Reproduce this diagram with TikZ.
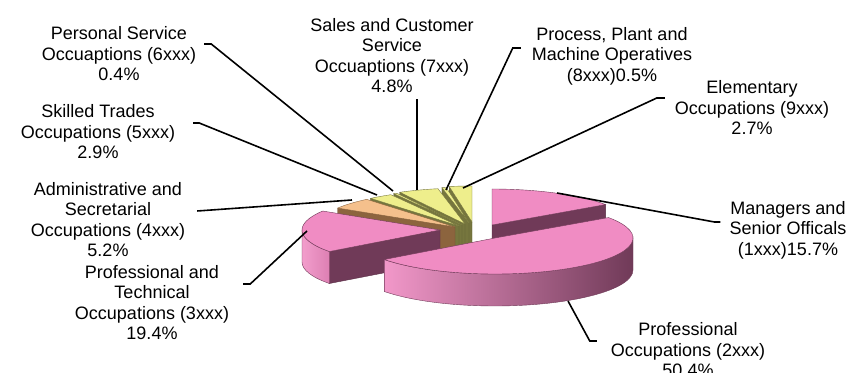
\documentclass[tikz,border=0pt]{standalone}
\usepackage{fontspec}
\setmainfont{Liberation Sans}
\usetikzlibrary{calc}
\definecolor{pinkT}{RGB}{240,140,195}
\definecolor{pinkS}{RGB}{112,58,88}
\definecolor{peachT}{RGB}{245,192,140}
\definecolor{peachS}{RGB}{140,100,62}
\definecolor{yelT}{RGB}{238,238,140}
\definecolor{yelS}{RGB}{118,118,62}
\tikzset{lbl/.style={font=\fontsize{18}{20.5}\selectfont, align=center, inner sep=0pt}}
\tikzset{leader/.style={draw, line width=1.6pt}}
\tikzset{topface/.style={fill=#1T, draw=#1S, line width=0.4pt}}
\tikzset{radface/.style={fill=#1S, draw=#1S!80!black, line width=0.4pt}}
% one slice of the pie: centre, angles, style
\newcommand{\pietop}[4]{\path[#4, shift={(#1)}] (0,0) -- (#2:138 and 36) arc[start angle=#2, end angle=#3, x radius=138, y radius=36] -- cycle;}
\newcommand{\pieface}[3]{\path[#3, shift={(#1)}] (0,0) -- (#2:138 and 36) -- ++(0,-32) -- (0,-32) -- cycle;}
\newcommand{\pieside}[4]{\path[#4, shift={(#1)}] (#2:138 and 36) arc[start angle=#2, end angle=#3, x radius=138, y radius=36] -- ++(0,-32) arc[start angle=#3, end angle=#2, x radius=138, y radius=36] -- cycle;}

\begin{document}
\begin{tikzpicture}[x=1pt,y=1pt]
	\useasboundingbox (0,0) rectangle (851,372);

	% slice centres
	\coordinate (cM) at (492,147);
	\coordinate (cB) at (495,134);
	\coordinate (cT) at (440,142);

	% managers
	\pieface{cM}{34.6}{radface=pink}
	\pietop{cM}{34.6}{90}{topface=pink}

	% small slices, back to front
	\foreach \cx/\cy/\lo/\hi/\col in {472/150/90/99.5/yel, 469/149/99.5/101.3/yel, 465/148/101.3/118.2/yel, 462/147/118.2/119.6/yel, 459/146/119.6/129.8/yel, 455/145/129.8/148.2/peach}{
		\coordinate (cS) at (\cx,\cy);
		\pieface{cS}{\hi}{radface=\col}
		\pietop{cS}{\lo}{\hi}{topface=\col}
	}

	% professional and technical
	\pieface{cT}{216.7}{radface=pink}
	\pieside{cT}{180}{216.7}{left color=pinkT!85!white, right color=pinkT!85!pinkS, draw=pinkS, line width=0.4pt}
	\pietop{cT}{148.2}{216.7}{topface=pink}

	% professional
	\pieside{cB}{216.7}{360}{left color=pinkT!90!white, right color=pinkS, draw=pinkS, line width=0.4pt}
	\pietop{cB}{-143.3}{34.6}{topface=pink}

	% labels
	\node[lbl] (l1) at (788,142) {Managers and\\Senior Officals\\(1xxx)15.7\%};
	\node[lbl] (l2) at (688,22) {Professional\\Occupations (2xxx)\\50.4\%};
	\node[lbl] (l3) at (152,69.5) {Professional and\\Technical\\Occupations (3xxx)\\19.4\%};
	\node[lbl] (l4) at (108,152.5) {Administrative and\\Secretarial\\Occupations (4xxx)\\5.2\%};
	\node[lbl] (l5) at (98,240) {Skilled Trades\\Occupations (5xxx)\\2.9\%};
	\node[lbl] (l6) at (119,318) {Personal Service\\Occuaptions (6xxx)\\0.4\%};
	\node[lbl] (l7) at (392,316.5) {Sales and Customer\\Service\\Occuaptions (7xxx)\\4.8\%};
	\node[lbl] (l8) at (612,316) {Process, Plant and\\Machine Operatives\\(8xxx)0.5\%};
	\node[lbl] (l9) at (752,264) {Elementary\\Occupations (9xxx)\\2.7\%};

	% leader ends on the slices
	\coordinate (e1) at (557,179);
	\coordinate (e2) at (568,71);
	\coordinate (e3) at (307,141);
	\coordinate (e4) at (352,172);
	\coordinate (e5) at (377,177);
	\coordinate (e6) at (393,181);
	\coordinate (e7) at (417,182);
	\coordinate (e8) at (446,182);
	\coordinate (e9) at (463,184);

	\draw[leader] ([shift={(-9,8)}]l1.west) -- ++(-6,0) -- (e1);
	\draw[leader] ([shift={(-14,9)}]l2.west) -- ++(-7,0) -- (e2);
	\draw[leader] ([shift={(14,18.5)}]l3.east) -- ++(7,0) -- (e3);
	\draw[leader] ([shift={(12,8.5)}]l4.east) -- (e4);
	\draw[leader] ([shift={(18,9)}]l5.east) -- ++(6,0) -- (e5);
	\draw[leader] ([shift={(8,10)}]l6.east) -- ++(7,0) -- (e6);
	\draw[leader] ($(e7 |- l7.south)+(0,-6)$) -- (e7);
	\draw[leader] ([shift={(-11,8)}]l8.west) -- ++(-8,0) -- (e8);
	\draw[leader] ([shift={(-10,10)}]l9.west) -- ++(-8,0) -- (e9);
\end{tikzpicture}
\end{document}
